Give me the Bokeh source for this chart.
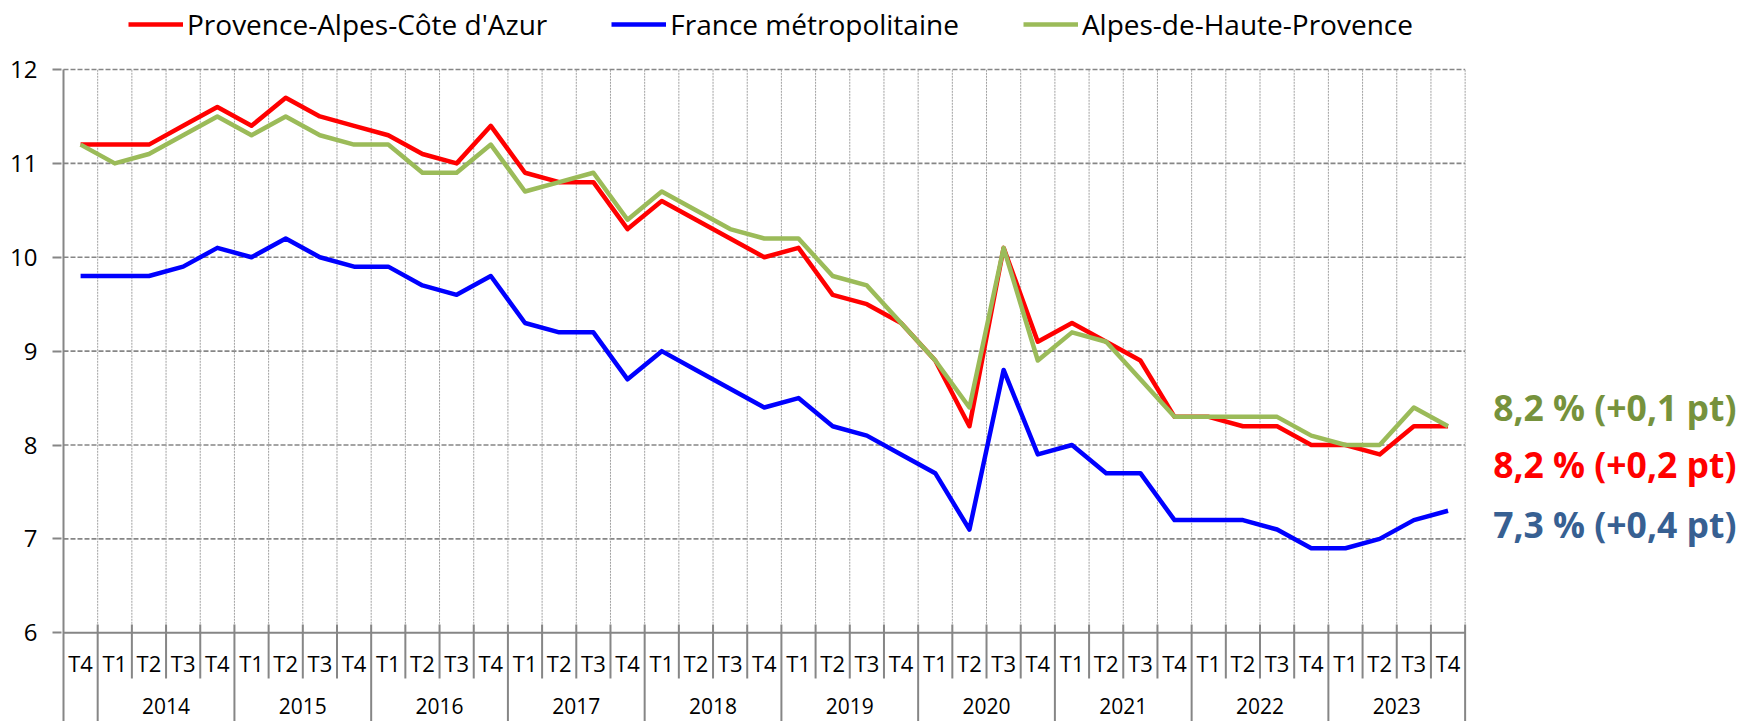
from bokeh.plotting import figure
from bokeh.models import Range1d, FixedTicker, Legend, LegendItem
from bokeh.core.properties import value
from bokeh.embed import file_html
from bokeh.resources import INLINE

# ---------------- data ----------------
years = ["2014", "2015", "2016", "2017", "2018", "2019", "2020", "2021", "2022", "2023"]
quarters = ["T4"] + ["T1", "T2", "T3", "T4"] * 10   # first point = T4 2013

paca = [11.2, 11.2, 11.2, 11.4, 11.6, 11.4, 11.7, 11.5, 11.4, 11.3, 11.1, 11.0, 11.4,
        10.9, 10.8, 10.8, 10.3, 10.6, 10.4, 10.2, 10.0, 10.1, 9.6, 9.5, 9.3,
        8.9, 8.2, 10.1, 9.1, 9.3, 9.1, 8.9, 8.3, 8.3, 8.2, 8.2, 8.0, 8.0, 7.9, 8.2, 8.2]
france = [9.8, 9.8, 9.8, 9.9, 10.1, 10.0, 10.2, 10.0, 9.9, 9.9, 9.7, 9.6, 9.8,
          9.3, 9.2, 9.2, 8.7, 9.0, 8.8, 8.6, 8.4, 8.5, 8.2, 8.1, 7.9,
          7.7, 7.1, 8.8, 7.9, 8.0, 7.7, 7.7, 7.2, 7.2, 7.2, 7.1, 6.9, 6.9, 7.0, 7.2, 7.3]
ahp = [11.2, 11.0, 11.1, 11.3, 11.5, 11.3, 11.5, 11.3, 11.2, 11.2, 10.9, 10.9, 11.2,
       10.7, 10.8, 10.9, 10.4, 10.7, 10.5, 10.3, 10.2, 10.2, 9.8, 9.7, 9.3,
       8.9, 8.4, 10.1, 8.9, 9.2, 9.1, 8.7, 8.3, 8.3, 8.3, 8.3, 8.1, 8.0, 8.0, 8.4, 8.2]

series_names = ["Provence-Alpes-Côte d'Azur", "France métropolitaine", "Alpes-de-Haute-Provence"]
end_labels = ["8,2 % (+0,2 pt)", "7,3 % (+0,4 pt)", "8,2 % (+0,1 pt)"]
y_ticks = [6, 7, 8, 9, 10, 11, 12]

# ---------------- styles ----------------
RED = "#FF0000"
BLUE = "#0000FF"
GREEN = "#9BBB59"
GREEN_TXT = "#76923C"
BLUE_TXT = "#376092"
GRID = "#868686"
FONT = "Open Sans"

n = len(quarters)
x = list(range(n))
x_lo, x_hi = -0.5, n - 0.5          # category extent
y_lo, y_hi = y_ticks[0], y_ticks[-1]

W, H = 1747, 721
LEFT = 61
PXU_X = 34.186   # px per category
PXU_Y = 93.88    # px per unit
x_start = x_lo - (63 - LEFT) / PXU_X
x_end = x_start + (W - LEFT) / PXU_X
y_end = y_hi + 69 / PXU_Y
y_start = y_end - H / PXU_Y

p = figure(width=W, height=H,
           x_range=Range1d(x_start, x_end), y_range=Range1d(y_start, y_end),
           output_backend="svg", toolbar_location=None, x_axis_location=None,
           min_border_left=LEFT, min_border_right=0, min_border_top=0,
           min_border_bottom=0)
p.outline_line_color = None
p.background_fill_color = "white"
p.border_fill_color = "white"
p.xgrid.visible = False
p.ygrid.visible = False

# y axis (ticks + labels from the axis, line drawn as segment)
ya = p.yaxis[0]
ya.ticker = FixedTicker(ticks=y_ticks)
ya.axis_line_color = None
ya.major_tick_line_color = GRID
ya.major_tick_line_width = 2
ya.major_tick_out = 9
ya.major_tick_in = 0
ya.minor_tick_line_color = None
ya.major_label_text_font = FONT
ya.major_label_text_font_size = "24px"
ya.major_label_text_color = "black"
ya.major_label_standoff = 15

# horizontal dashed grid
gy = y_ticks[1:]
p.segment(x0=[x_lo] * len(gy), y0=gy, x1=[x_hi] * len(gy), y1=gy,
          line_color=GRID, line_width=1.6, line_dash="5 2")

# vertical dotted grid between categories
bounds = [i + 0.5 for i in range(n)]
p.segment(x0=bounds, y0=[y_lo] * n, x1=bounds, y1=[y_hi] * n,
          line_color="#a0a0a0", line_width=1, line_dash="2 1")

# axis lines
p.segment(x0=[x_lo], y0=[y_hi], x1=[x_lo], y1=[y_start], line_color=GRID, line_width=2)
p.segment(x0=[x_lo], y0=[y_lo], x1=[x_hi], y1=[y_lo], line_color=GRID, line_width=2)

# category tick marks (quarters short, year boundaries long)
year_bounds = [b for i, b in enumerate(bounds) if quarters[i] == "T4"]
q_bounds = [b for i, b in enumerate(bounds) if quarters[i] != "T4"]
p.segment(x0=q_bounds, y0=[6.088] * len(q_bounds), x1=q_bounds, y1=[5.513] * len(q_bounds),
          line_color=GRID, line_width=2)
p.segment(x0=year_bounds, y0=[6.088] * len(year_bounds), x1=year_bounds,
          y1=[y_start] * len(year_bounds), line_color=GRID, line_width=2)

# quarter labels
p.text(x=x, y=[5.673] * n, text=quarters, text_font=value(FONT),
       text_font_size="22px", text_align="center", text_baseline="middle",
       text_color="black")
# year labels
year_x = [2.5 + 4 * j for j in range(len(years))]
p.text(x=year_x, y=[5.215] * len(years), text=years, text_font=value(FONT),
       text_font_size="21px", text_align="center", text_baseline="middle",
       text_color="black")

# series lines
r_blue = p.line(x, france, line_color=BLUE, line_width=4.5, line_join="round")
r_red = p.line(x, paca, line_color=RED, line_width=4.5, line_join="round")
r_green = p.line(x, ahp, line_color=GREEN, line_width=4.5, line_join="round")

legend = Legend(items=[LegendItem(label=series_names[0], renderers=[r_red]),
                       LegendItem(label=series_names[1], renderers=[r_blue]),
                       LegendItem(label=series_names[2], renderers=[r_green])],
                orientation="horizontal", location=(67, H - 43),
                label_text_font=FONT, label_text_font_size="28px",
                label_text_color="black",
                label_height=36, glyph_height=36,
                glyph_width=55, label_standoff=4, spacing=64,
                padding=0, margin=0, border_line_color=None,
                background_fill_alpha=0)
p.add_layout(legend)

# end-of-series labels
lab_x = x_hi + 28 / PXU_X
p.text(x=[lab_x] * 3, y=[8.403, 7.803, 7.154],
       text=[end_labels[2], end_labels[0], end_labels[1]],
       text_color=[GREEN_TXT, RED, BLUE_TXT],
       text_font=value(FONT), text_font_style="bold", text_font_size="35.5px",
       text_align="left", text_baseline="middle")

open("out.html", "w").write(file_html(p, INLINE))
